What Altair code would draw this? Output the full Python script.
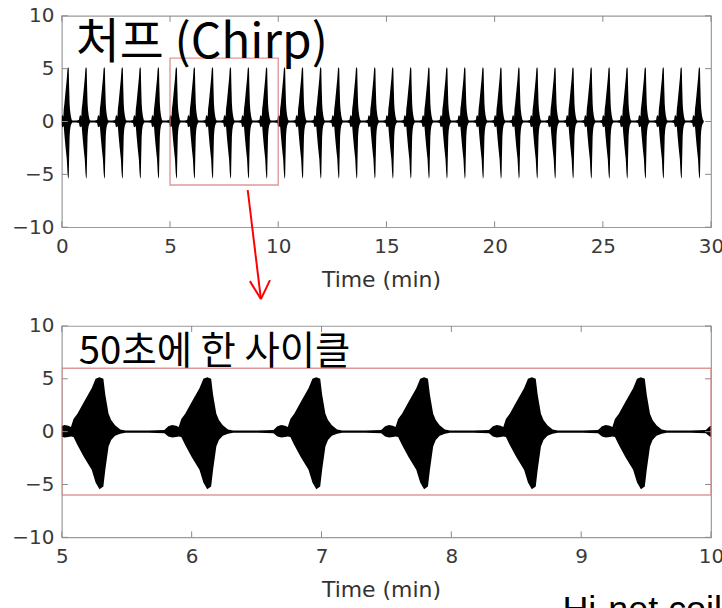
import altair as alt
import pandas as pd

# ---- data ----
# burst (peak) times in minutes, one every 50 s
peaks = [0.29, 1.12, 1.96, 2.79, 3.62, 4.46, 5.29, 6.12, 6.96, 7.79, 8.62, 9.46,
         10.29, 11.12, 11.96, 12.79, 13.62, 14.46, 15.29, 16.12, 16.96, 17.79, 18.62, 19.46,
         20.29, 21.12, 21.96, 22.79, 23.62, 24.46, 25.29, 26.12, 26.96, 27.79, 28.62, 29.46]
# envelope of one burst, offsets (min) relative to the peak
env_offset = [-0.45, -0.33, -0.30, -0.27, -0.24, -0.22, -0.20, -0.17, -0.12, -0.06,
              -0.03, 0.00, 0.03, 0.045, 0.07, 0.09, 0.12, 0.16, 0.20]
env_upper = [0.10, 0.15, 0.50, 0.62, 0.55, 0.45, 1.20, 1.70, 2.80, 4.10,
             5.00, 5.15, 5.00, 3.50, 1.70, 1.10, 0.60, 0.20, 0.10]
env_lower = [-0.10, -0.15, -0.45, -0.55, -0.50, -0.45, -0.50, -1.27, -2.40, -3.60,
             -4.80, -5.45, -5.20, -3.60, -1.40, -0.80, -0.40, -0.20, -0.10]

x_ticks_top = [0, 5, 10, 15, 20, 25, 30]
x_ticks_bot = [5, 6, 7, 8, 9, 10]
y_ticks = [-10, -5, 0, 5, 10]

zoom_box_x = [5]
zoom_box_x2 = [10]
zoom_box_y = [-6]
zoom_box_y2 = [6]

arrow_x0 = [8.59, 8.69, 9.62]
arrow_y0 = [-6.48, -15.1, -15.0]
arrow_x1 = [9.20, 9.20, 9.20]
arrow_y1 = [-16.8, -16.8, -16.8]

title_top = "처프 (Chirp)"
title_bottom = "50초에 한 사이클"
corner_text = "Hi-net coil"

# ---- tables ----
rows = []
for p in peaks:
    for o, u, l in zip(env_offset, env_upper, env_lower):
        rows.append({"t": round(p + o, 4), "upper": u, "lower": l})
sig = pd.DataFrame(rows).sort_values("t")
box = pd.DataFrame({"x": zoom_box_x, "x2": zoom_box_x2, "y": zoom_box_y, "y2": zoom_box_y2})
arrow = pd.DataFrame({"x": arrow_x0, "y": arrow_y0, "x2": arrow_x1, "y2": arrow_y1})

W, H = 651, 212
FONT = "DejaVu Sans"
KFONT = "Noto Sans CJK KR"
TICK_C = "#8a8a8a"


def panel(domain_x, xticks, data, extra):
    xs = alt.Scale(domain=domain_x, nice=False, zero=False)
    ys = alt.Scale(domain=[-10, 10], nice=False, zero=False)
    xaxis = alt.Axis(values=xticks, title="Time (min)", grid=False, domain=False, ticks=False,
                     format="d",
                     labelFont=FONT, labelFontSize=20, labelColor="#3a3a3a", labelPadding=9,
                     labelFlush=False, labelOverlap=False,
                     titleFont=FONT, titleFontSize=22, titleFontWeight="normal",
                     titleColor="#333333", titlePadding=13, titleX=320)
    yaxis = alt.Axis(values=y_ticks, title=None, grid=False, domain=False, ticks=False,
                     labelFont=FONT, labelFontSize=20, labelColor="#3a3a3a", labelPadding=8,
                     labelOverlap=False, labelFlush=False)
    area = alt.Chart(data).mark_area(color="black", clip=True, interpolate="linear").encode(
        x=alt.X("t:Q", scale=xs, axis=xaxis),
        y=alt.Y("upper:Q", scale=ys, axis=yaxis),
        y2="lower:Q",
    )
    xt = pd.DataFrame({"v": xticks})
    yt = pd.DataFrame({"v": y_ticks})
    tb = alt.Chart(xt).mark_rule(color=TICK_C, strokeWidth=1).encode(
        x=alt.X("v:Q", scale=xs), y=alt.value(H), y2=alt.value(H - 6))
    tt = alt.Chart(xt).mark_rule(color=TICK_C, strokeWidth=1).encode(
        x=alt.X("v:Q", scale=xs), y=alt.value(0), y2=alt.value(6))
    tl = alt.Chart(yt).mark_rule(color=TICK_C, strokeWidth=1).encode(
        y=alt.Y("v:Q", scale=ys), x=alt.value(0), x2=alt.value(6))
    tr = alt.Chart(yt).mark_rule(color=TICK_C, strokeWidth=1).encode(
        y=alt.Y("v:Q", scale=ys), x=alt.value(W), x2=alt.value(W - 6))
    rect = alt.Chart(box).mark_rect(fill=None, stroke="#d47f7f", strokeWidth=1.4,
                                    strokeOpacity=0.8, clip=True).encode(
        x=alt.X("x:Q", scale=xs), x2="x2:Q", y=alt.Y("y:Q", scale=ys), y2="y2:Q")
    layers = [area, tb, tt, tl, tr, rect] + [e(xs, ys) for e in extra]
    return alt.layer(*layers).properties(width=W, height=H)


def arrow_layer(xs, ys):
    return alt.Chart(arrow).mark_rule(color="#ff0000", strokeWidth=2, clip=False).encode(
        x=alt.X("x:Q", scale=xs), y=alt.Y("y:Q", scale=ys), x2="x2:Q", y2="y2:Q")


def top_text(xs, ys):
    return alt.Chart(pd.DataFrame({"s": [title_top]})).mark_text(
        font=KFONT, fontSize=48, color="black", align="left", baseline="alphabetic").encode(
        text="s:N", x=alt.value(14), y=alt.value(42))


def bot_text(xs, ys):
    return alt.Chart(pd.DataFrame({"s": [title_bottom]})).mark_text(
        font=KFONT, fontSize=38.5, color="black", align="left", baseline="alphabetic").encode(
        text="s:N", x=alt.value(17), y=alt.value(38))


def corner(xs, ys):
    return alt.Chart(pd.DataFrame({"s": [corner_text]})).mark_text(
        font="Liberation Sans", fontSize=36, color="black", align="left",
        baseline="alphabetic", clip=False).encode(
        text="s:N", x=alt.value(502), y=alt.value(296))


sig_top = sig[(sig.t >= -0.6) & (sig.t <= 30.6)]
sig_bot = sig[(sig.t >= 4.4) & (sig.t <= 10.6)]

top = panel([0, 30], x_ticks_top, sig_top, [arrow_layer, top_text])
bottom = panel([5, 10], x_ticks_bot, sig_bot, [bot_text, corner])

chart = alt.vconcat(top, bottom, spacing=99, bounds="flush").properties(
    padding={"left": 11, "top": 4, "right": -3, "bottom": -22},
    background="white",
).configure_view(stroke="#9a9a9a", strokeWidth=1.2)

chart.save("out.html", embed_options={"renderer": "svg", "actions": False})
